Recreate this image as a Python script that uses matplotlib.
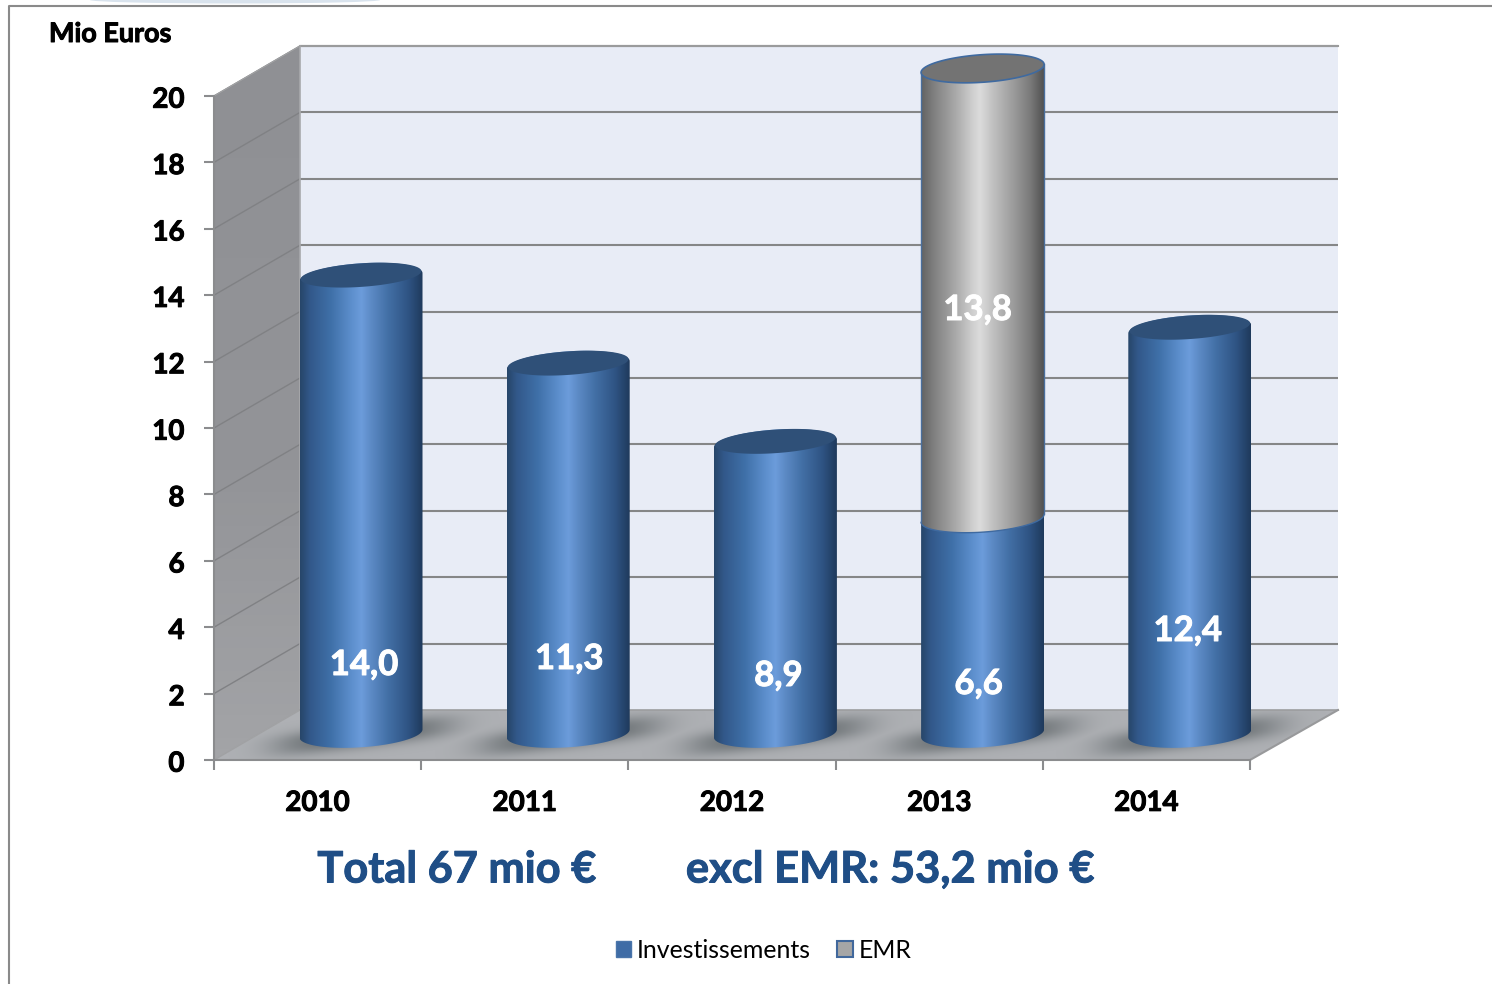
import numpy as np
import matplotlib
matplotlib.use("Agg")
import matplotlib.pyplot as plt
import matplotlib.patheffects as pe
from matplotlib.patches import Polygon, PathPatch, Patch, Ellipse
from matplotlib.path import Path
from matplotlib.colors import LinearSegmentedColormap
from matplotlib.transforms import ScaledTranslation

# ---- data ----
years = ["2010", "2011", "2012", "2013", "2014"]
investissements = [14.0, 11.3, 8.9, 6.6, 12.4]
emr = [0, 0, 0, 13.8, 0]
inv_labels = ["14,0", "11,3", "8,9", "6,6", "12,4"]
emr_labels = ["", "", "", "13,8", ""]
y_ticks = [0, 2, 4, 6, 8, 10, 12, 14, 16, 18, 20]

# ---- style / layout (pixels of the 1492x984 picture) ----
W, H = 1492, 984
FONT = "Lato"
plt.rcParams["font.family"] = [FONT, "DejaVu Sans"]
X0, X_UNIT = 214, 207.2      # front plane
Y0, Y_UNIT = 760, 33.2
DX, DY = 86 / X_UNIT, 50 / Y_UNIT   # depth of the box
DXR = 88 / X_UNIT
CX0, CY0, CY_UNIT = 361, 733.5, 32.6  # cylinder axes
R = 61.5 / X_UNIT
TILT, MINOR = 4.0 / CY_UNIT, 13.8 / CY_UNIT
GRID = "#858687"
AXC = "#8b8c8e"
TXT_BLUE = "#1f4e86"
inv_label_y = [665, 659, 676, 684, 631]
emr_label_y = 310
label_dx = [3, 1, 3, -4, -2]
heavy = [pe.withStroke(linewidth=.7, foreground="black")]
heavy_w = [pe.withStroke(linewidth=.7, foreground="white")]
heavy_b = [pe.withStroke(linewidth=.7, foreground=TXT_BLUE)]

blue = LinearSegmentedColormap.from_list("b", [(0, "#274669"), (.08, "#32588a"), (.25, "#3f70a8"),
    (.42, "#5d8fcd"), (.5, "#6c9cdb"), (.58, "#5c8ac5"), (.72, "#426fa5"), (.88, "#2f5484"), (1, "#1f3a5c")])
grey = LinearSegmentedColormap.from_list("g", [(0, "#626262"), (.1, "#7f7f7f"), (.28, "#a9a9a9"),
    (.42, "#cfcfcf"), (.48, "#dcdcdc"), (.58, "#c2c2c2"), (.75, "#9c9c9c"), (.9, "#777777"), (1, "#525252")])

fig = plt.figure(figsize=(W / 100, H / 100), dpi=100, facecolor="white")

# box axes: real ticks and spines, full figure
ax = fig.add_axes([0, 0, 1, 1], facecolor="none")
n = len(years)
ymax = y_ticks[-1]

# back wall
ax.add_patch(Polygon([(DX, DY), (n + DXR, DY), (n + DXR, ymax + DY), (DX, ymax + DY)],
                     fc="#e8ecf6", ec="none", zorder=1))
# side wall with soft vertical gradient
side = Polygon([(0, 0), (DX, DY), (DX, ymax + DY), (0, ymax)], fc="none", ec="none", zorder=2)
ax.add_patch(side)
sim = ax.imshow(np.linspace(0, 1, 64)[:, None],
                cmap=LinearSegmentedColormap.from_list("s", [(0, "#8f9094"), (.6, "#939498"), (1, "#a3a4a7")]),
                extent=(0, DX, 0, ymax + DY), origin="upper", aspect="auto", zorder=2)
sim.set_clip_path(side)
# floor
floor = Polygon([(0, 0), (n, 0), (n + DXR, DY), (DX, DY)], fc="#aeb0b4", ec="none", zorder=2)
ax.add_patch(floor)
# shadows on the floor
gx = np.linspace(0, n + DXR, 900)
gy = np.linspace(-.1, DY + .1, 120)
XX, YY = np.meshgrid(gx, gy)
shade = np.zeros_like(XX)
for i in range(n):
    u = (XX - (i + .5 + .21 + .01)) * X_UNIT
    v = (YY - .72) * Y_UNIT - .12 * u
    shade = np.maximum(shade, np.exp(-(np.abs(u) / 90) ** 4 - (np.abs(v) / 12) ** 2.4))
rgba = np.zeros(XX.shape + (4,))
rgba[..., :3] = (.33, .36, .37)
rgba[..., 3] = .72 * shade
him = ax.imshow(rgba, extent=(gx[0], gx[-1], gy[0], gy[-1]), origin="lower", aspect="auto", zorder=2.5)
him.set_clip_path(floor)

# gridlines on back and side walls
for t in y_ticks[1:]:
    ax.plot([DX, n + DXR], [t + DY, t + DY], color=GRID, lw=1.5, zorder=3, solid_capstyle="butt")
    ax.plot([0, DX], [t, t + DY], color="#808184", lw=1.0, zorder=3)
ax.plot([DX, n + DXR], [ymax + DY] * 2, color="#9a9b9c", lw=1.5, zorder=3)
ax.plot([DX, DX], [DY, ymax + DY], color="#a8a9ac", lw=1.2, zorder=3)
ax.plot([DX, n + DXR], [DY, DY], color="#9c9d9f", lw=1.2, zorder=3)
ax.plot([n, n + DXR], [0, DY], color="#98999b", lw=1.5, zorder=3)
ax.plot([0, DX], [ymax, ymax + DY], color="#a0a1a3", lw=1.0, zorder=3)
ax.plot([0, DX], [0, DY], color="#a0a1a3", lw=1.0, zorder=3)

# real axis lines, ticks and labels
for s in ("top", "right"):
    ax.spines[s].set_visible(False)
ax.spines["left"].set_position(("data", 0))
ax.spines["bottom"].set_position(("data", 0))
ax.spines["left"].set_bounds(0, ymax)
ax.spines["bottom"].set_bounds(0, n)
for s in ("left", "bottom"):
    ax.spines[s].set_color(AXC)
    ax.spines[s].set_linewidth(1.5)
    ax.spines[s].set_zorder(4)
ax.set_yticks(y_ticks)
ax.set_yticklabels([str(t) for t in y_ticks], fontsize=20, fontweight="bold", color="black")
ax.set_xticks(np.arange(n + 1))
ax.set_xticklabels([""] * (n + 1))
ax.set_xticks(np.arange(n) + .5, minor=True)
ax.set_xticklabels(years, minor=True, fontsize=20, fontweight="bold", color="black")
ax.tick_params(axis="y", length=7.2, width=1.5, color=AXC, pad=14)
ax.tick_params(axis="x", which="major", length=7.2, width=1.5, color=AXC)
ax.tick_params(axis="x", which="minor", length=0, pad=21.5)
nudge = ScaledTranslation(0, -1.2 / 100, fig.dpi_scale_trans)
for lab in ax.get_yticklabels():
    lab.set_path_effects(heavy)
    lab.set_transform(lab.get_transform() + nudge)
for lab in ax.get_xticklabels(minor=True):
    lab.set_path_effects(heavy)
ax.set_xlim(-X0 / X_UNIT, (W - X0) / X_UNIT)
ax.set_ylim(-(H - Y0) / Y_UNIT, Y0 / Y_UNIT)

# cylinder axes
cyl = fig.add_axes([0, 0, 1, 1], facecolor="none")
cyl.set_axis_off()


def ell(c, y, t, r=R, minor=MINOR):
    return c + r * np.cos(t), y + TILT * np.cos(t) + minor * np.sin(t)


def body(c, y0, y1, cmap, z):
    t1 = np.linspace(np.pi, 2 * np.pi, 60)
    t2 = np.linspace(0, np.pi, 60)
    pts = np.vstack([np.column_stack(ell(c, y0, t1)), np.column_stack(ell(c, y1, t2))])
    path = Path(np.vstack([pts, pts[0]]), closed=True)
    patch = PathPatch(path, fc="none", ec="none", zorder=z)
    cyl.add_patch(patch)
    im = cyl.imshow(np.linspace(0, 1, 256)[None, :], cmap=cmap,
                    extent=(c - R, c + R, y0 - 1, y1 + 1), aspect="auto", interpolation="bilinear", zorder=z)
    im.set_clip_path(patch)


T = np.linspace(0, 2 * np.pi, 160)
for i in range(n):
    inv, e = investissements[i], emr[i]
    body(i, 0, inv, blue, 10 + i)
    if e > 0:
        top = inv + e
        t1 = np.linspace(np.pi, 2 * np.pi, 60)
        body(i, inv, top, grey, 10.3 + i)
        cyl.plot(*ell(i, inv, t1), color="#3f6aa0", lw=1.0, zorder=10.4 + i)
        for side_x, sgn in ((i - R, -1), (i + R, 1)):
            cyl.plot([side_x, side_x], [inv + sgn * TILT, top + sgn * TILT], color="#4a6f9e", lw=1.0, zorder=10.4 + i)
        cyl.fill(*ell(i, top, T), fc="#737373", ec="#3f6aa0", lw=1.2, zorder=10.5 + i)
    else:
        # inner top face: the body gradient stays visible as a light front rim
        shift = 2.0 / CY_UNIT
        cyl.fill(*ell(i, inv + shift, T, R * .98, MINOR - shift), fc="#2f5078", ec="none", zorder=10.5 + i)

px_y = lambda p: (CY0 - p) / CY_UNIT
for i in range(n):
    cyl.text(i + label_dx[i] / X_UNIT, px_y(inv_label_y[i]), inv_labels[i], color="white", fontsize=25,
             fontweight="bold", ha="center", va="center", zorder=30, path_effects=heavy_w)
    if emr_labels[i]:
        cyl.text(i - 5 / X_UNIT, px_y(emr_label_y), emr_labels[i], color="white", fontsize=25,
                 fontweight="bold", ha="center", va="center", zorder=30, path_effects=heavy_w)

cyl.set_xlim(-CX0 / X_UNIT, (W - CX0) / X_UNIT)
cyl.set_ylim(-(H - CY0) / CY_UNIT, CY0 / CY_UNIT)

# free texts
fig.text(49 / W, 1 - 34 / H, "Mio Euros", fontsize=19.4, fontweight="bold", color="black", ha="left", va="center",
         path_effects=heavy)
fig.text(457 / W, 1 - 869.5 / H, "Total 67 mio €", fontsize=31.2, fontweight="bold", color=TXT_BLUE, ha="center",
         va="center", path_effects=heavy_b)
fig.text(890.5 / W, 1 - 869.5 / H, "excl EMR: 53,2 mio €", fontsize=31.3, fontweight="bold", color=TXT_BLUE,
         ha="center", va="center", path_effects=heavy_b)

# legend
handles = [Patch(fc="#3f6ca6", ec="#4a75aa", label="Investissements"),
           Patch(fc="#a6a6a6", ec="#41689c", lw=1.5, label="EMR")]
fig.legend(handles=handles, loc="center", bbox_to_anchor=(763.5 / W, 1 - 950 / H), ncols=2, frameon=False,
           fontsize=17.9, handlelength=.62, handleheight=.62, handletextpad=.22, columnspacing=1.08)

# slide frame
fig.add_artist(plt.Line2D([9 / W, 9 / W, 1], [0, 1 - 6 / H, 1 - 6 / H], transform=fig.transFigure,
                          color="#8a8a8a", lw=1.5))
fig.add_artist(Ellipse((235 / W, 1), 290 / W, 7 / H, transform=fig.transFigure, fc="#c9d8e6", ec="none", alpha=.7))

fig.savefig("out.png", dpi=100)
